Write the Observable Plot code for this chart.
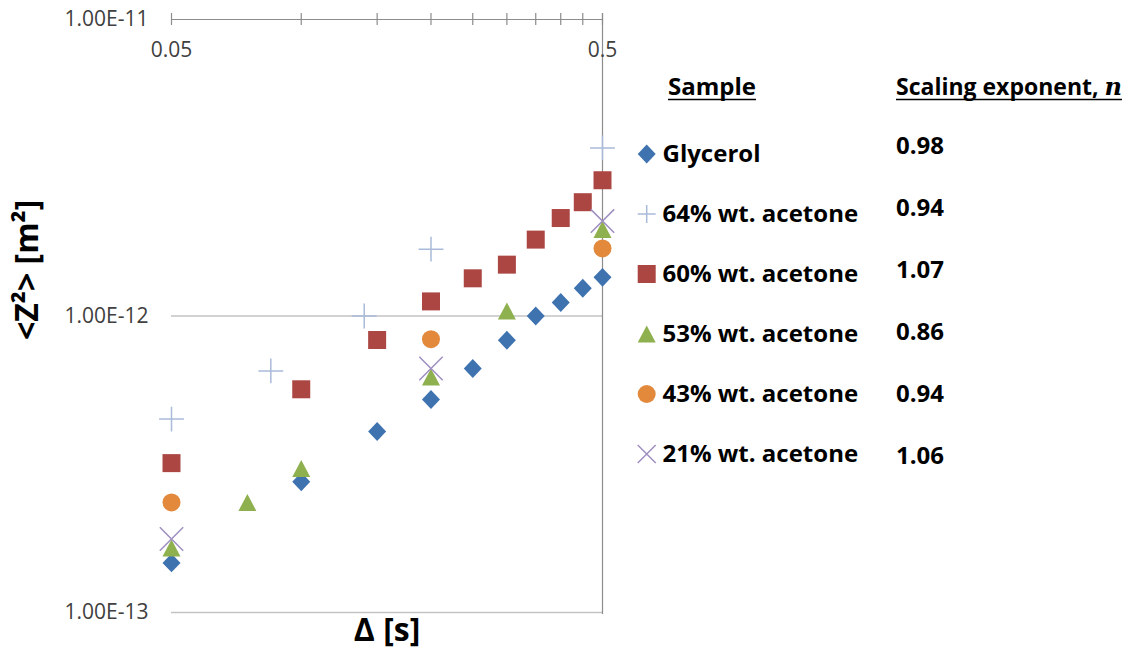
<!DOCTYPE html>
<html>
<head>
<meta charset="utf-8">
<script src="https://cdn.jsdelivr.net/npm/d3@7"></script>
<script src="https://cdn.jsdelivr.net/npm/@observablehq/plot@0.6"></script>
<style>
  html, body { margin: 0; padding: 0; background: #fff; }
  #chart { position: relative; width: 1133px; height: 648px; overflow: hidden; background: #fff; }
  #chart svg { position: absolute; left: 0; top: 0; }
</style>
</head>
<body>
<div id="chart"></div>
<script>
// ---- Data: mean squared displacement <Z²> versus lag time Δ ----
const samples = ["Glycerol", "64% wt. acetone", "60% wt. acetone", "53% wt. acetone", "43% wt. acetone", "21% wt. acetone"];
const exponents = ["0.98", "0.94", "1.07", "0.86", "0.94", "1.06"];

const glycerolDelta = [0.05, 0.1, 0.15, 0.2, 0.25, 0.3, 0.35, 0.4, 0.45, 0.5];
const glycerolZ2    = [1.47e-13, 2.76e-13, 4.08e-13, 5.23e-13, 6.65e-13, 8.28e-13, 1.00e-12, 1.11e-12, 1.24e-12, 1.35e-12];

const acetone64Delta = [0.05, 0.085, 0.14, 0.2, 0.5];
const acetone64Z2    = [4.49e-13, 6.53e-13, 1.00e-12, 1.68e-12, 3.69e-12];

const acetone60Delta = [0.05, 0.1, 0.15, 0.2, 0.25, 0.3, 0.35, 0.4, 0.45, 0.5];
const acetone60Z2    = [3.19e-13, 5.66e-13, 8.30e-13, 1.12e-12, 1.34e-12, 1.49e-12, 1.81e-12, 2.14e-12, 2.42e-12, 2.87e-12];

const acetone53Delta = [0.05, 0.075, 0.1, 0.2, 0.3, 0.5];
const acetone53Z2    = [1.65e-13, 2.35e-13, 3.06e-13, 6.23e-13, 1.04e-12, 1.96e-12];

const acetone43Delta = [0.05, 0.2, 0.5];
const acetone43Z2    = [2.35e-13, 8.35e-13, 1.69e-12];

const acetone21Delta = [0.05, 0.2, 0.5];
const acetone21Z2    = [1.77e-13, 6.65e-13, 2.09e-12];

const xTicks = [0.05, 0.1, 0.15, 0.2, 0.25, 0.3, 0.35, 0.4, 0.45, 0.5];
const xTickLabels = ["0.05", "0.5"];
const yTicks = [1e-11, 1e-12, 1e-13];
const yTickLabels = ["1.00E-11", "1.00E-12", "1.00E-13"];

// ---- Marker shapes (Excel-like), sized from the dot radius ----
const rad = (size) => Math.sqrt(size / Math.PI);
const diamond = {draw(c, size) { const r = rad(size); c.moveTo(0, -r * 1.05); c.lineTo(r, 0); c.lineTo(0, r * 1.05); c.lineTo(-r, 0); c.closePath(); }};
const square  = {draw(c, size) { const r = rad(size); c.rect(-r, -r, 2 * r, 2 * r); }};
const circle  = {draw(c, size) { const r = rad(size); c.moveTo(r, 0); c.arc(0, 0, r, 0, 2 * Math.PI); }};
const triangle = {draw(c, size) { const r = rad(size); c.moveTo(0, -r * 0.95); c.lineTo(r, r * 0.95); c.lineTo(-r, r * 0.95); c.closePath(); }};
const plus  = (k) => ({draw(c, size) { const r = rad(size) * k; c.moveTo(-r, 0); c.lineTo(r, 0); c.moveTo(0, -r); c.lineTo(0, r); }});
const times = (k) => ({draw(c, size) { const r = rad(size) * k; c.moveTo(-r, -r); c.lineTo(r, r); c.moveTo(-r, r); c.lineTo(r, -r); }});

const series = [
  {delta: glycerolDelta,  z2: glycerolZ2,  symbol: diamond,    legendSymbol: diamond,    color: "#3f73b0", filled: true},
  {delta: acetone64Delta, z2: acetone64Z2, symbol: plus(1.38), legendSymbol: plus(1.0),  color: "#a9bbd9", filled: false},
  {delta: acetone60Delta, z2: acetone60Z2, symbol: square,     legendSymbol: square,     color: "#ab4643", filled: true},
  {delta: acetone53Delta, z2: acetone53Z2, symbol: triangle,   legendSymbol: triangle,   color: "#8fb04f", filled: true},
  {delta: acetone43Delta, z2: acetone43Z2, symbol: circle,     legendSymbol: circle,     color: "#e3893c", filled: true},
  {delta: acetone21Delta, z2: acetone21Z2, symbol: times(1.3), legendSymbol: times(1.0), color: "#9e8fc0", filled: false}
];

const R = 9;
const dotMarks = series.map((s) => Plot.dot(s.delta.map((d, i) => ({delta: d, z2: s.z2[i]})), {
  x: "delta", y: "z2", r: R, symbol: s.symbol,
  fill: s.filled ? s.color : "none",
  stroke: s.filled ? "none" : s.color,
  strokeWidth: s.filled ? 0 : 1.5
}));

const font = "'Open Sans', 'Noto Sans', sans-serif";

const plot = Plot.plot({
  width: 1133,
  height: 648,
  marginLeft: 171,
  marginRight: 531,
  marginTop: 19,
  marginBottom: 36,
  style: {fontFamily: font, fontSize: "21px", color: "#404040", background: "transparent", overflow: "visible"},
  x: {type: "log", domain: [0.05, 0.5], axis: null},
  y: {type: "log", domain: [1e-13, 1e-11], axis: null},
  marks: [
    // horizontal gridlines
    Plot.ruleY(yTicks.slice(1), {stroke: "#c3c3c3", strokeWidth: 1.3}),
    // value axis line on the right
    Plot.ruleX([0.5], {stroke: "#8c8c8c", strokeWidth: 1.2, insetTop: -6, insetBottom: -2}),
    // category axis line along the top with crossing tick marks
    Plot.ruleY([yTicks[0]], {stroke: "#8c8c8c", strokeWidth: 1.2}),
    Plot.ruleX(xTicks, {x: (d) => d, y1: yTicks[0], y2: yTicks[0], insetTop: -6, insetBottom: -6, stroke: "#8c8c8c", strokeWidth: 1.2}),
    // tick labels
    Plot.text(xTickLabels, {x: (d) => +d, y: yTicks[0], text: (d) => d, dy: 31, fill: "#404040", fontSize: 21}),
    Plot.text(yTicks, {x: 0.05, y: (d) => d, text: (d, i) => yTickLabels[i], textAnchor: "end", dx: -23, fill: "#404040", fontSize: 21}),
    // axis titles
    Plot.text(["<Z²> [m²]"], {frameAnchor: "left", rotate: -90, lineAnchor: "bottom", dx: -134, dy: 24, fontSize: 32, fontWeight: "bold", fill: "#000"}),
    Plot.text(["Δ [s]"], {frameAnchor: "bottom", lineAnchor: "bottom", dy: 28, fontSize: 32, fontWeight: "bold", fill: "#000"}),
    ...dotMarks
  ]
});

const chart = document.getElementById("chart");
chart.append(plot);

// ---- Legend table: sample marker + name, scaling exponent ----
const legend = d3.select(chart).append("svg")
  .attr("width", 1133).attr("height", 648)
  .style("font-family", font).style("font-weight", "bold").style("font-size", "24px");

function header(x, y, size, parts) {
  const t = legend.append("text").attr("x", x).attr("y", y).attr("fill", "#000").style("font-size", size + "px");
  parts.forEach((p) => {
    const ts = t.append("tspan").text(p.text);
    if (p.serif) ts.style("font-family", "'DejaVu Serif', 'Liberation Serif', serif").style("font-style", "italic").style("font-size", (size + 1) + "px");
  });
  const w = t.node().getComputedTextLength();
  legend.append("line").attr("x1", x).attr("x2", x + w).attr("y1", y + 4.5).attr("y2", y + 4.5)
    .attr("stroke", "#000").attr("stroke-width", 1.6);
}
header(668, 95, 24, [{text: "Sample"}]);
header(896, 95, 23, [{text: "Scaling exponent, "}, {text: "n", serif: true}]);

const valueBaselines = [153.5, 215.5, 277.5, 340, 402, 464];
series.forEach((s, i) => {
  const base = 161.5 + 60 * i;
  legend.append("path")
    .attr("transform", `translate(646.7,${base - 7.5})`)
    .attr("d", d3.symbol().type(s.legendSymbol).size(Math.PI * R * R)())
    .attr("fill", s.filled ? s.color : "none")
    .attr("stroke", s.filled ? "none" : s.color)
    .attr("stroke-width", s.filled ? 0 : 1.5);
  legend.append("text").attr("x", 662.5).attr("y", base).attr("fill", "#000").text(samples[i]);
  legend.append("text").attr("x", 896).attr("y", valueBaselines[i]).attr("fill", "#000").text(exponents[i]);
});
</script>
</body>
</html>
